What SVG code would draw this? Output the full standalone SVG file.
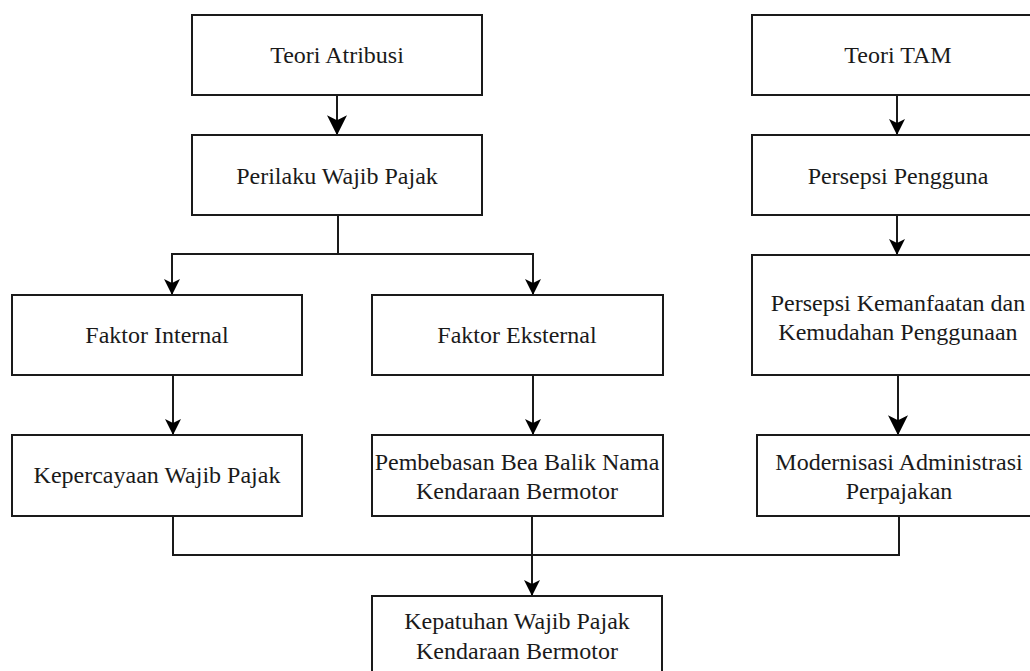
<svg xmlns="http://www.w3.org/2000/svg" width="1030" height="671" viewBox="0 0 1030 671">
<style>
.box{fill:#fff;stroke:#1a1a1a;stroke-width:2}
.t{font-family:"Liberation Serif","Times New Roman",serif;font-size:24px;fill:#1a1a1a;text-anchor:middle}
.c{fill:none;stroke:#1a1a1a;stroke-width:2}
</style>
<defs>
<marker id="ah" viewBox="0 0 16 16" markerWidth="16" markerHeight="16" refX="15" refY="8" orient="auto" markerUnits="userSpaceOnUse">
<path d="M0,0 L16,8 L0,16 L4,8 Z" fill="#000"/>
</marker>
<marker id="ahL" viewBox="0 0 16 16" markerWidth="20" markerHeight="20" refX="15" refY="8" orient="auto" markerUnits="userSpaceOnUse">
<path d="M0,0 L16,8 L0,16 L4,8 Z" fill="#000"/>
</marker>
</defs>
<rect width="1030" height="671" fill="#fff"/>
<g id="connectors">
<line class="c" x1="337" y1="95" x2="337" y2="134" marker-end="url(#ahL)"/>
<polyline class="c" points="338,215 338,254"/>
<polyline class="c" points="172,254 533,254"/>
<line class="c" x1="172" y1="253" x2="172" y2="294" marker-end="url(#ah)"/>
<line class="c" x1="533" y1="253" x2="533" y2="294" marker-end="url(#ah)"/>
<line class="c" x1="173" y1="375" x2="173" y2="434" marker-end="url(#ah)"/>
<line class="c" x1="533" y1="375" x2="533" y2="434" marker-end="url(#ah)"/>
<line class="c" x1="897" y1="95" x2="897" y2="134" marker-end="url(#ah)"/>
<line class="c" x1="897" y1="215" x2="897" y2="254" marker-end="url(#ah)"/>
<line class="c" x1="898" y1="375" x2="898" y2="434" marker-end="url(#ahL)"/>
<polyline class="c" points="173,516 173,555 899,555 899,516"/>
<line class="c" x1="532" y1="516" x2="532" y2="595" marker-end="url(#ah)"/>
</g>
<g id="teori-atribusi"><rect class="box" x="192" y="15" width="290" height="80"/><text class="t" x="337" y="63">Teori Atribusi</text></g>
<g id="perilaku"><rect class="box" x="192" y="135" width="290" height="80"/><text class="t" x="337" y="184">Perilaku Wajib Pajak</text></g>
<g id="faktor-internal"><rect class="box" x="12" y="295" width="290" height="80"/><text class="t" x="157" y="343">Faktor Internal</text></g>
<g id="faktor-eksternal"><rect class="box" x="372" y="295" width="291" height="80"/><text class="t" x="517" y="343">Faktor Eksternal</text></g>
<g id="kepercayaan"><rect class="box" x="12" y="435" width="290" height="81"/><text class="t" x="157" y="483">Kepercayaan Wajib Pajak</text></g>
<g id="pembebasan"><rect class="box" x="372" y="435" width="291" height="81"/><text class="t" x="517" y="470">Pembebasan Bea Balik Nama</text><text class="t" x="517" y="499">Kendaraan Bermotor</text></g>
<g id="teori-tam"><rect class="box" x="752" y="15" width="290" height="80"/><text class="t" x="898" y="63">Teori TAM</text></g>
<g id="persepsi-pengguna"><rect class="box" x="752" y="135" width="290" height="80"/><text class="t" x="898" y="184">Persepsi Pengguna</text></g>
<g id="persepsi-kemanfaatan"><rect class="box" x="752" y="255" width="290" height="120"/><text class="t" x="898" y="311">Persepsi Kemanfaatan dan</text><text class="t" x="898" y="340">Kemudahan Penggunaan</text></g>
<g id="modernisasi"><rect class="box" x="757" y="435" width="290" height="81"/><text class="t" x="899" y="470">Modernisasi Administrasi</text><text class="t" x="899" y="499">Perpajakan</text></g>
<g id="kepatuhan"><rect class="box" x="372" y="596" width="290" height="81"/><text class="t" x="517" y="629">Kepatuhan Wajib Pajak</text><text class="t" x="517" y="659">Kendaraan Bermotor</text></g>
</svg>
